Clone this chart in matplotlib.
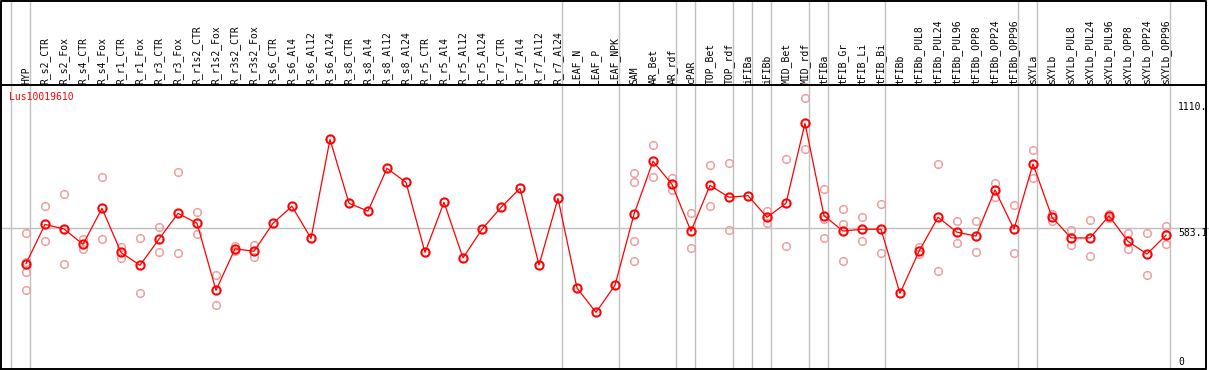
import matplotlib
matplotlib.use('Agg')
import matplotlib.pyplot as plt
from matplotlib.path import Path
import numpy as np

# 샘플 이름 (왼쪽 -> 오른쪽)
samples = ['HYP', 'R_s2_CTR', 'R_s2_Fox', 'R_s4_CTR', 'R_s4_Fox', 'R_r1_CTR', 'R_r1_Fox',
           'R_r3_CTR', 'R_r3_Fox', 'R_r1s2_CTR', 'R_r1s2_Fox', 'R_r3s2_CTR', 'R_r3s2_Fox',
           'R_s6_CTR', 'R_s6_Al4', 'R_s6_Al12', 'R_s6_Al24', 'R_s8_CTR', 'R_s8_Al4',
           'R_s8_Al12', 'R_s8_Al24', 'R_r5_CTR', 'R_r5_Al4', 'R_r5_Al12', 'R_r5_Al24',
           'R_r7_CTR', 'R_r7_Al4', 'R_r7_Al12', 'R_r7_Al24', 'LEAF_N', 'LEAF_P', 'LEAF_NPK',
           'SAM', 'AR_Bet', 'AR_rdf', 'cPAR', 'TOP_Bet', 'TOP_rdf', 'iFIBa', 'iFIBb',
           'MID_Bet', 'MID_rdf', 'tFIBa', 'tFIB_Gr', 'tFIB_Li', 'tFIB_Bi', 'tFIBb',
           'tFIBb_PUL8', 'tFIBb_PUL24', 'tFIBb_PUL96', 'tFIBb_OPP8', 'tFIBb_OPP24',
           'tFIBb_OPP96', 'sXYLa', 'sXYLb', 'sXYLb_PUL8', 'sXYLb_PUL24', 'sXYLb_PUL96',
           'sXYLb_OPP8', 'sXYLb_OPP24', 'sXYLb_OPP96']

# 평균값
means = [428, 599, 579, 512, 669, 477, 421, 535, 647, 604, 312, 493, 482,
         604, 678, 538, 969, 691, 657, 843, 782, 477, 695, 453, 578, 673, 756, 422, 712,
         322, 216, 334,
         643, 874, 773, 569, 769, 717, 724, 630, 691, 1039, 637, 570, 578, 578, 299,
         482, 630, 565, 548, 749, 578, 862, 630, 540, 540, 636, 525, 470, 552]

# 반복 측정값 (없으면 빈 리스트)
reps = [[560, 437, 390, 313], [678, 525], [730, 427], [535, 493], [804, 534],
        [502, 454], [538, 300], [586, 480], [826, 473], [653, 556], [377, 247],
        [505, 483], [509, 458],
        [], [], [], [], [], [], [], [], [], [], [], [], [], [], [], [],
        [], [], [],
        [823, 785, 525, 438], [943, 804], [800, 749], [647, 495], [856, 678],
        [865, 573], [], [657, 606], [882, 504], [1148, 926], [752, 622, 538],
        [666, 599, 438], [630, 525], [686, 473], [],
        [499, 470], [861, 395], [612, 517], [612, 480], [778, 717], [682, 473],
        [922, 800], [644, 615], [573, 508], [618, 461], [644, 627], [560, 490],
        [560, 377], [591, 512]]

# 그룹 경계 (이 인덱스 뒤에 세로선)
group_ends = [-1, 0, 28, 31, 34, 35, 37, 38, 39, 41, 42, 45, 52, 53, 60]

gene = 'Lus10019610'
ref_value = 583.1
max_value = 1110.

# 픽셀 -> 데이터 좌표 맞추기
W, H = 1209, 370
x0, dx = 26, 19           # 첫 컬럼 픽셀, 컬럼 간격
y0, dy = 362, 255 / 1110  # 0 값 픽셀, 값당 픽셀


def px_x(p):
    return (p - x0) / dx


def px_y(p):
    return (y0 - p) / dy


fig = plt.figure(figsize=(W / 100, H / 100), dpi=100)
ax = fig.add_axes([0, 0, 1, 1])
ax.set_xlim(px_x(0), px_x(W))
ax.set_ylim(px_y(H), px_y(0))
ax.axis('off')

# 마커: 원 둘레의 작은 눈금
ticks = Path([(0, 1.0), (0, 1.45), (0, -1.0), (0, -1.45),
              (1.0, 0), (1.45, 0), (-1.0, 0), (-1.45, 0)],
             [Path.MOVETO, Path.LINETO] * 4)

font = dict(family='DejaVu Sans Mono', fontsize=7)

# 세로 구분선
for g in group_ends:
    ax.axvline(g + 0.23, color='#c0c0c0', lw=1.0, zorder=1)

# 기준선
ax.axhline(ref_value, color='#c0c0c0', lw=1.0, zorder=1)

# 헤더 영역
header_y = px_y(85)
ax.plot([px_x(0), px_x(1206)], [header_y, header_y], color='black', lw=1.4, zorder=3)
for i, s in enumerate(samples):
    ax.text(i, px_y(83.5), s, rotation=90, ha='center', va='bottom', color='black', **font)

# 반복값
for i, r in enumerate(reps):
    if not r:
        continue
    xs = [i] * len(r)
    ax.plot(xs, r, ls='none', marker='o', ms=5.6, mfc='none', mec='#ee9c9c', mew=1.0, zorder=2)
    ax.plot(xs, r, ls='none', marker=ticks, ms=5.6, mec='#ee9c9c', mew=0.8, zorder=2)

# 평균선
xi = np.arange(len(samples))
ax.plot(xi, means, color='red', lw=0.9, zorder=4)
ax.plot(xi, means, ls='none', marker='o', ms=6.0, mfc='none', mec='red', mew=1.4, zorder=5)
ax.plot(xi, means, ls='none', marker=ticks, ms=6.0, mec='red', mew=1.0, zorder=5)

# 제목, 오른쪽 눈금
ax.text(px_x(9), px_y(97), gene, color='red', ha='left', va='center', **font)
ax.text(px_x(1178), max_value, '1110.', ha='left', va='center', **font)
ax.text(px_x(1178), ref_value - 20, '583.1', ha='left', va='center', **font)
ax.text(px_x(1178), 0, '0', ha='left', va='center', **font)

# 테두리
fx0, fx1 = px_x(1.5), px_x(1205.5)
fy0, fy1 = px_y(368.5), px_y(0.5)
ax.plot([fx0, fx1, fx1, fx0, fx0], [fy0, fy0, fy1, fy1, fy0], color='black', lw=1.4, zorder=6,
        clip_on=False)

fig.savefig('out.png', dpi=100, facecolor='white')
